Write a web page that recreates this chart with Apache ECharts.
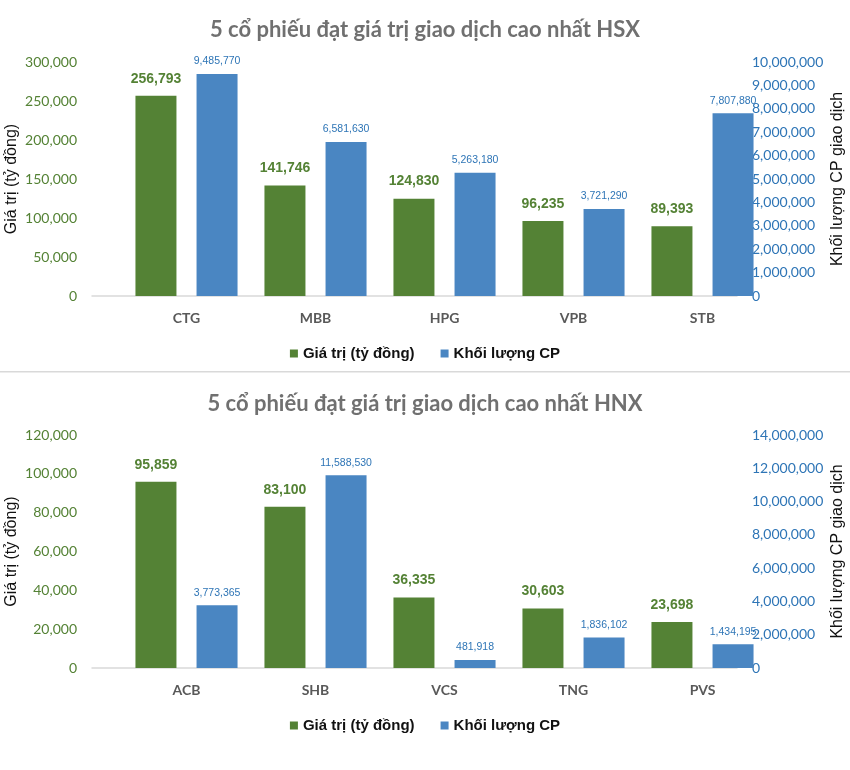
<!DOCTYPE html>
<html><head><meta charset="utf-8">
<script src="https://cdn.jsdelivr.net/npm/echarts@6/dist/echarts.min.js"></script>
<style>html,body{margin:0;padding:0;background:#fff}#c{width:850px;height:770px}</style>
</head><body><div id="c"></div>
<script>
const hsxTitle = '5 cổ phiếu đạt giá trị giao dịch cao nhất HSX';
const hnxTitle = '5 cổ phiếu đạt giá trị giao dịch cao nhất HNX';
const hsxCats = ['CTG','MBB','HPG','VPB','STB'];
const hsxValue = [256793,141746,124830,96235,89393];
const hsxVolume = [9485770,6581630,5263180,3721290,7807880];
const hnxCats = ['ACB','SHB','VCS','TNG','PVS'];
const hnxValue = [95859,83100,36335,30603,23698];
const hnxVolume = [3773365,11588530,481918,1836102,1434195];
const hsxLeftAxis = {min:0,max:300000,interval:50000};
const hsxRightAxis = {min:0,max:10000000,interval:1000000};
const hnxLeftAxis = {min:0,max:120000,interval:20000};
const hnxRightAxis = {min:0,max:14000000,interval:2000000};
const nameValue = 'Giá trị (tỷ đồng)';
const nameVolume = 'Khối lượng CP';
const leftName = 'Giá trị (tỷ đồng)';
const rightName = 'Khối lượng CP giao dịch';

const GREEN = '#548235', BLUE = '#4a86c2', GREEN_T = '#548235', BLUE_T = '#2e75b6';
const ARIAL = "'Liberation Sans',Arial,sans-serif";
const fmt = v => Number(v).toLocaleString('en-US');

const chart = echarts.init(document.getElementById('c'), null, {renderer:'canvas'});

function panel(top, h) {
  return [
    {left:122, right:83, top:top, height:h, containLabel:false, outerBoundsMode:'none'},
    {left:92, right:113, top:top, height:h, containLabel:false, outerBoundsMode:'none'}
  ];
}
const grids = [...panel(62,234), ...panel(435,233)];

function xAxes(cats, gMain, gLine) {
  return [
    {type:'category', gridIndex:gMain, data:cats, axisLine:{show:false}, axisTick:{show:false},
     axisLabel:{color:'#595959', fontFamily:'Lato', fontWeight:'bold', fontSize:14, margin:15}},
    {type:'category', gridIndex:gLine, data:cats, axisLine:{show:true, lineStyle:{color:'#d9d9d9', width:1.5}},
     axisTick:{show:false}, axisLabel:{show:false}}
  ];
}
function yAxes(L, R, gMain, gLine) {
  return [
    Object.assign({type:'value', gridIndex:gMain, position:'left', offset:30,
      name:leftName, nameLocation:'middle', nameGap:72, nameMoveOverlap:false,
      nameTextStyle:{color:'#111', fontFamily:ARIAL, fontSize:16},
      axisLine:{show:false}, axisTick:{show:false}, splitLine:{show:false},
      axisLabel:{color:GREEN_T, fontFamily:'Lato', fontSize:14, margin:15, formatter:fmt}}, L),
    Object.assign({type:'value', gridIndex:gMain, position:'right', offset:-17,
      name:rightName, nameLocation:'middle', nameGap:80, nameRotate:90, nameMoveOverlap:false,
      nameTextStyle:{color:'#111', fontFamily:ARIAL, fontSize:16},
      axisLine:{show:false}, axisTick:{show:false}, splitLine:{show:false},
      axisLabel:{color:BLUE_T, fontFamily:'Lato', fontSize:14, margin:2, align:'left', formatter:fmt}}, R),
    {type:'value', gridIndex:gLine, min:0, max:1, show:false}
  ];
}

function series(vals, vols, xi, yl, yr) {
  return [
    {name:nameValue, type:'bar', xAxisIndex:xi, yAxisIndex:yl, data:vals, barWidth:41, barGap:'49%',
     itemStyle:{color:GREEN},
     label:{show:true, position:'top', distance:10, color:GREEN_T, fontFamily:ARIAL, fontWeight:'bold', fontSize:14, formatter:p=>fmt(p.value)}},
    {name:nameVolume, type:'bar', xAxisIndex:xi, yAxisIndex:yr, data:vols, barWidth:41, barGap:'49%',
     itemStyle:{color:BLUE},
     label:{show:true, position:'top', distance:7, color:BLUE_T, fontFamily:ARIAL, fontSize:10.5, formatter:p=>fmt(p.value)}}
  ];
}

const legendStyle = {itemWidth:8, itemHeight:8, itemGap:26,
  textStyle:{color:'#111', fontFamily:ARIAL, fontWeight:'bold', fontSize:15},
  data:[{name:nameValue, icon:'rect'},{name:nameVolume, icon:'rect'}]};

chart.setOption({
  animation:false,
  title:[
    {text:hsxTitle, left:'center', top:14, textStyle:{color:'#707070', fontFamily:'Lato', fontWeight:'bold', fontSize:22}},
    {text:hnxTitle, left:'center', top:388, textStyle:{color:'#707070', fontFamily:'Lato', fontWeight:'bold', fontSize:22}}
  ],
  legend:[
    Object.assign({left:'center', top:341}, legendStyle),
    Object.assign({left:'center', top:713}, legendStyle)
  ],
  grid:grids,
  xAxis:[...xAxes(hsxCats,0,1), ...xAxes(hnxCats,2,3)],
  yAxis:[...yAxes(hsxLeftAxis,hsxRightAxis,0,1), ...yAxes(hnxLeftAxis,hnxRightAxis,2,3)],
  series:[...series(hsxValue,hsxVolume,0,0,1), ...series(hnxValue,hnxVolume,2,3,4)],
  graphic:[{type:'rect', shape:{x:0, y:371, width:850, height:1.5}, style:{fill:'#d9d9d9'}, silent:true}]
});
</script></body></html>
